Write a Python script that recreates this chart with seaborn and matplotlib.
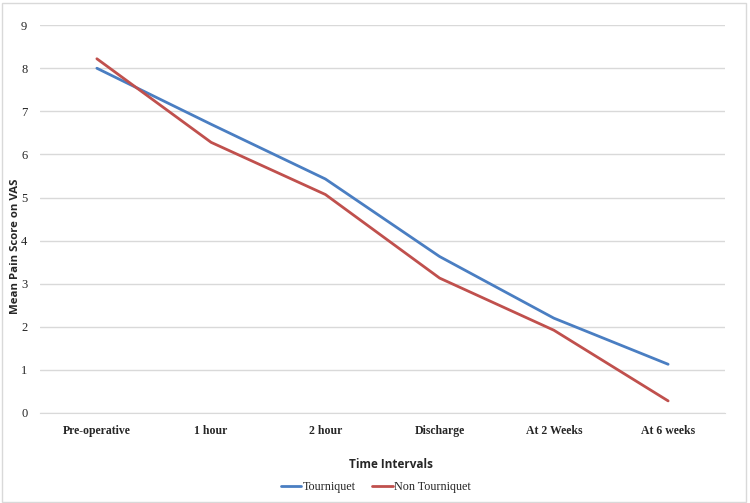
import pandas as pd
import matplotlib.pyplot as plt
import seaborn as sns

# values
intervals = ['Pre-operative', '1 hour', '2 hour', 'Discharge', 'At 2 Weeks', 'At 6 weeks']
tourniquet = [8.0, 6.7, 5.43, 3.63, 2.2, 1.13]
non_tourniquet = [8.22, 6.28, 5.07, 3.13, 1.92, 0.28]
groups = ['Tourniquet', 'Non Tourniquet']

df = pd.DataFrame({
    'Time Intervals': intervals * 2,
    'Score': tourniquet + non_tourniquet,
    'Group': [groups[0]] * len(intervals) + [groups[1]] * len(intervals),
})
df['x'] = list(range(len(intervals))) * 2

sns.set_style("white")
palette = {'Tourniquet': '#4A7EC2', 'Non Tourniquet': '#C0504D'}

fig = plt.figure(figsize=(7.5, 5.03), dpi=100)
ax = fig.add_axes([0.053, 0.179, 0.914, 0.771])

sns.lineplot(data=df, x='x', y='Score', hue='Group', palette=palette,
             linewidth=2, ax=ax, legend=False)

ax.set_xlim(-0.5, len(intervals) - 0.5)
ax.set_ylim(0, 9)
ax.set_yticks(range(0, 10))
ax.set_yticklabels([str(i) for i in range(10)], fontfamily='Liberation Serif', fontsize=9)
ax.set_xticks(range(len(intervals)))
ax.set_xticklabels(intervals, fontfamily='Liberation Serif', fontweight='bold', fontsize=8.5)
ax.tick_params(axis='x', length=0, pad=9)
ax.tick_params(axis='y', length=0, pad=9)
ax.grid(axis='y', color='#D9D9D9', linewidth=1)
ax.set_axisbelow(True)
for s in ['left', 'right', 'top']:
    ax.spines[s].set_visible(False)
ax.spines['bottom'].set_color('#D9D9D9')

ax.set_ylabel('Mean Pain Score on VAS', fontfamily='Open Sans', fontweight='bold', fontsize=8.2)
ax.yaxis.set_label_coords(-0.027, 0.43)
ax.set_xlabel('Time Intervals', fontfamily='Open Sans', fontweight='bold', fontsize=8.5)
ax.xaxis.set_label_coords(0.513, -0.115)

handles = [plt.Line2D([], [], color=palette[g], linewidth=2) for g in groups]
fig.legend(handles, groups, loc='center', bbox_to_anchor=(0.501, 0.032), ncol=2,
           frameon=False, prop={'family': 'Liberation Serif', 'size': 8.7},
           handlelength=1.7, handletextpad=0.1, columnspacing=1.4)

# light frame around the figure
fig.patches.append(plt.Rectangle((0.002, 0.002), 0.993, 0.993, transform=fig.transFigure,
                                 fill=False, edgecolor='#D9D9D9', linewidth=1))

fig.savefig('out.png', dpi=100)
